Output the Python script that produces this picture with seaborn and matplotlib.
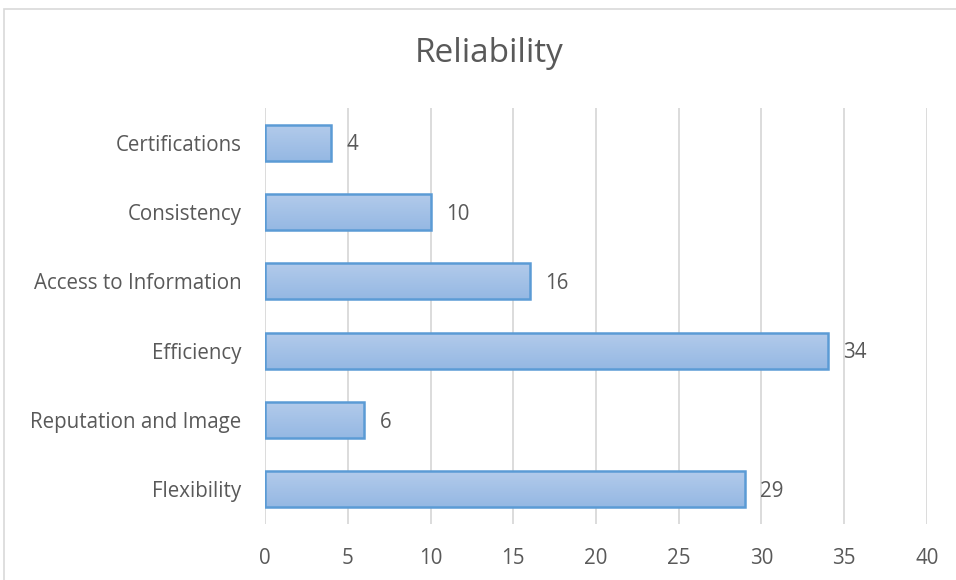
import matplotlib
matplotlib.use("Agg")
import matplotlib.pyplot as plt
import seaborn as sns
import numpy as np
import pandas as pd
from matplotlib.colors import LinearSegmentedColormap

categories = ["Certifications", "Consistency", "Access to Information",
              "Efficiency", "Reputation and Image", "Flexibility"]
values = [4, 10, 16, 34, 6, 29]
x_ticks = [0, 5, 10, 15, 20, 25, 30, 35, 40]
title = "Reliability"

sns.set_theme(style="white")
plt.rcParams['font.family'] = ['Open Sans', 'DejaVu Sans']

df = pd.DataFrame({"category": categories, "value": values})

fig = plt.figure(figsize=(9.56, 5.8), dpi=100)
ax = fig.add_axes([265/956, 1-524/580, (927-265)/956, (524-108)/580])

sns.barplot(data=df, x="value", y="category", orient="h", ax=ax,
            color="#9dbde6", edgecolor="#5b9bd5", linewidth=1.8, width=0.52,
            saturation=1, zorder=3)

cmap = LinearSegmentedColormap.from_list("g", ["#b3cbeb", "#95b8e3"])
grad = np.linspace(0, 1, 64).reshape(-1, 1)
for p in ax.patches:
    x0, y0 = p.get_x(), p.get_y()
    w, h = p.get_width(), p.get_height()
    im = ax.imshow(grad, cmap=cmap, aspect="auto",
                   extent=[x0, x0 + w, y0, y0 + h], origin="lower", zorder=3.5)
    im.set_clip_path(p)
    p.set_facecolor("none")
    p.set_zorder(4)

ax.set_xlim(0, 40)
ax.set_ylim(5.5, -0.5)
ax.set_xticks(x_ticks)
ax.grid(axis="x", color="#d9d9d9", linewidth=1.3, zorder=0)
ax.grid(axis="y", visible=False)
for s in ax.spines.values():
    s.set_visible(False)
ax.set_xlabel("")
ax.set_ylabel("")
ax.tick_params(axis="both", length=0, labelsize=14.8, labelcolor="#595959")
ax.tick_params(axis="y", pad=17)
ax.tick_params(axis="x", pad=17)
for lbl in ax.get_yticklabels():
    lbl.set_y(lbl.get_position()[1])

for i, v in enumerate(values):
    ax.annotate(str(v), (v, i), xytext=(11, -1.5), textcoords="offset points",
                va="center", ha="left", fontsize=14.8, color="#595959")

fig.text(489/956, 1-53/580, title, ha="center", va="center",
         fontsize=24, color="#595959")

border = plt.Rectangle((4/956, -0.01), 1, 1 - 9/580 + 0.01, transform=fig.transFigure,
                       fill=False, edgecolor="#d9d9d9", linewidth=1.2)
fig.patches.append(border)

fig.savefig("out.png", dpi=100)
